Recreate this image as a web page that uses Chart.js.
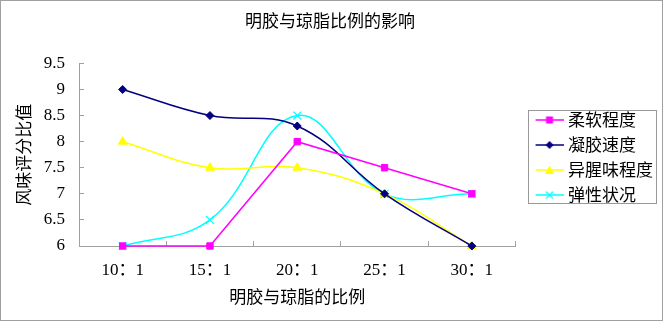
<!DOCTYPE html>
<html>
<head>
<meta charset="utf-8">
<script src="https://cdn.jsdelivr.net/npm/chart.js@4/dist/chart.umd.min.js"></script>
<style>
html, body { margin: 0; padding: 0; background: #fff; }
</style>
</head>
<body>
<canvas id="ratio_chart" width="663" height="321"></canvas>
<script>
// data
var ratios = ["10：1", "15：1", "20：1", "25：1", "30：1"];
var softness = [6, 6, 8, 7.5, 7];
var gelSpeed = [9, 8.5, 8.3, 7, 6];
var offFlavor = [8, 7.5, 7.5, 7, 6];
var elasticity = [6, 6.5, 8.5, 7, 7];
var seriesNames = ["柔软程度", "凝胶速度", "异腥味程度", "弹性状况"];

var cjk = "'Noto Sans CJK SC', sans-serif";
var serif = "'Liberation Serif', 'Noto Sans CJK SC', serif";
var legendShift = 12; // gap between plot and legend

// small line+marker pictures for the legend (line starts 4px in, so it sits right of the item start)
function legendIcon(color, shape) {
    var c = document.createElement('canvas');
    c.width = 32; c.height = 12;
    var g = c.getContext('2d');
    g.strokeStyle = color; g.fillStyle = color; g.lineWidth = 1.5;
    g.beginPath(); g.moveTo(4, 6); g.lineTo(32, 6); g.stroke();
    g.beginPath();
    if (shape == 'rect') {
        g.fillRect(14.5, 2.5, 7, 7);
    } else if (shape == 'diamond') {
        g.moveTo(18, 2); g.lineTo(22, 6); g.lineTo(18, 10); g.lineTo(14, 6); g.closePath(); g.fill();
    } else if (shape == 'triangle') {
        g.moveTo(18, 1.5); g.lineTo(22.5, 10); g.lineTo(13.5, 10); g.closePath(); g.fill();
    } else {
        g.lineWidth = 1.2;
        g.moveTo(14.5, 2.5); g.lineTo(21.5, 9.5); g.moveTo(21.5, 2.5); g.lineTo(14.5, 9.5); g.stroke();
    }
    return c;
}
var icons = [
    legendIcon('#FF00FF', 'rect'),
    legendIcon('#000080', 'diamond'),
    legendIcon('#FFFF00', 'triangle'),
    legendIcon('#00FFFF', 'cross')
];

// frame round the whole picture and round the legend items
var framePlugin = {
    id: 'frame',
    afterLayout: function(chart) {
        // push the legend into the right padding, leaving a gap after the plot
        chart.legend.left += legendShift;
        chart.legend.right += legendShift;
    },
    afterDraw: function(chart) {
        var ctx = chart.ctx;
        ctx.save();
        ctx.strokeStyle = '#a0a0a0';
        ctx.lineWidth = 1;
        ctx.strokeRect(0.5, 0.5, chart.width - 1, chart.height - 1);
        var boxes = chart.legend.legendHitBoxes;
        if (boxes && boxes.length) {
            var l = 9999, r = 0, t = 9999, b = 0;
            boxes.forEach(function(h) {
                l = Math.min(l, h.left); r = Math.max(r, h.left + h.width);
                t = Math.min(t, h.top); b = Math.max(b, h.top + h.height);
            });
            l = Math.round(l - 8); r = Math.min(Math.round(r + 3), chart.width - 5);
            t = Math.round(t - 2); b = Math.round(b - 1);
            ctx.strokeStyle = '#999999';
            ctx.strokeRect(l + 0.5, t + 0.5, r - l, b - t);
        }
        ctx.restore();
    }
};

var ctxRatio = document.getElementById('ratio_chart').getContext('2d');
var chart = new Chart(ctxRatio, {
    type: 'line',
    data: {
        labels: ratios,
        datasets: [{
            label: seriesNames[0],
            data: softness,
            borderColor: '#FF00FF',
            backgroundColor: '#FF00FF',
            pointStyle: 'rect',
            pointRadius: 4.5,
            tension: 0
        }, {
            label: seriesNames[1],
            data: gelSpeed,
            borderColor: '#000080',
            backgroundColor: '#000080',
            pointStyle: 'rectRot',
            pointRadius: 4,
            tension: 0.4
        }, {
            label: seriesNames[2],
            data: offFlavor,
            borderColor: '#FFFF00',
            backgroundColor: '#FFFF00',
            pointStyle: 'triangle',
            pointRadius: 5,
            tension: 0.4
        }, {
            label: seriesNames[3],
            data: elasticity,
            borderColor: '#00FFFF',
            backgroundColor: '#00FFFF',
            pointStyle: 'crossRot',
            pointRadius: 5.5,
            pointBorderWidth: 1.2,
            tension: 0.4
        }]
    },
    options: {
        responsive: false,
        animation: false,
        clip: false,
        layout: { padding: { left: 9, right: legendShift, top: 4, bottom: 10 } },
        elements: { line: { borderWidth: 1.5 }, point: { borderWidth: 1 } },
        plugins: {
            title: {
                display: true,
                text: '明胶与琼脂比例的影响',
                color: '#000',
                font: { family: cjk, size: 17, weight: 'normal' },
                padding: { top: 6, bottom: 33 }
            },
            legend: {
                position: 'right',
                labels: {
                    color: '#000',
                    font: { family: cjk, size: 17 },
                    usePointStyle: true,
                    pointStyleWidth: 24,
                    padding: 8,
                    generateLabels: function(ch) {
                        var items = Chart.defaults.plugins.legend.labels.generateLabels(ch);
                        items.forEach(function(it, i) { it.pointStyle = icons[i]; });
                        return items;
                    }
                }
            },
            tooltip: { enabled: false }
        },
        scales: {
            x: {
                offset: true,
                afterFit: function(scale) { scale.height = 65; },
                grid: { offset: true, drawOnChartArea: false, drawTicks: true, tickLength: -5, color: '#a0a0a0' },
                border: { color: '#a0a0a0' },
                ticks: { color: '#000', font: { family: serif, size: 17 }, padding: 19 },
                title: {
                    display: true,
                    text: '明胶与琼脂的比例',
                    color: '#000',
                    font: { family: cjk, size: 17 },
                    padding: { top: 0, bottom: 4 }
                }
            },
            y: {
                min: 6,
                max: 9.5,
                afterFit: function(scale) { scale.width = 70; },
                ticks: {
                    stepSize: 0.5,
                    color: '#000',
                    font: { family: serif, size: 17 },
                    padding: 19,
                    callback: function(v) { return String(v); }
                },
                grid: { drawOnChartArea: false, drawTicks: true, tickLength: -5, color: '#a0a0a0' },
                border: { color: '#a0a0a0' },
                title: {
                    display: true,
                    text: '风味评分比值',
                    color: '#000',
                    font: { family: cjk, size: 17 },
                    padding: { top: 4, bottom: 4 }
                }
            }
        }
    },
    plugins: [framePlugin]
});
</script>
</body>
</html>
